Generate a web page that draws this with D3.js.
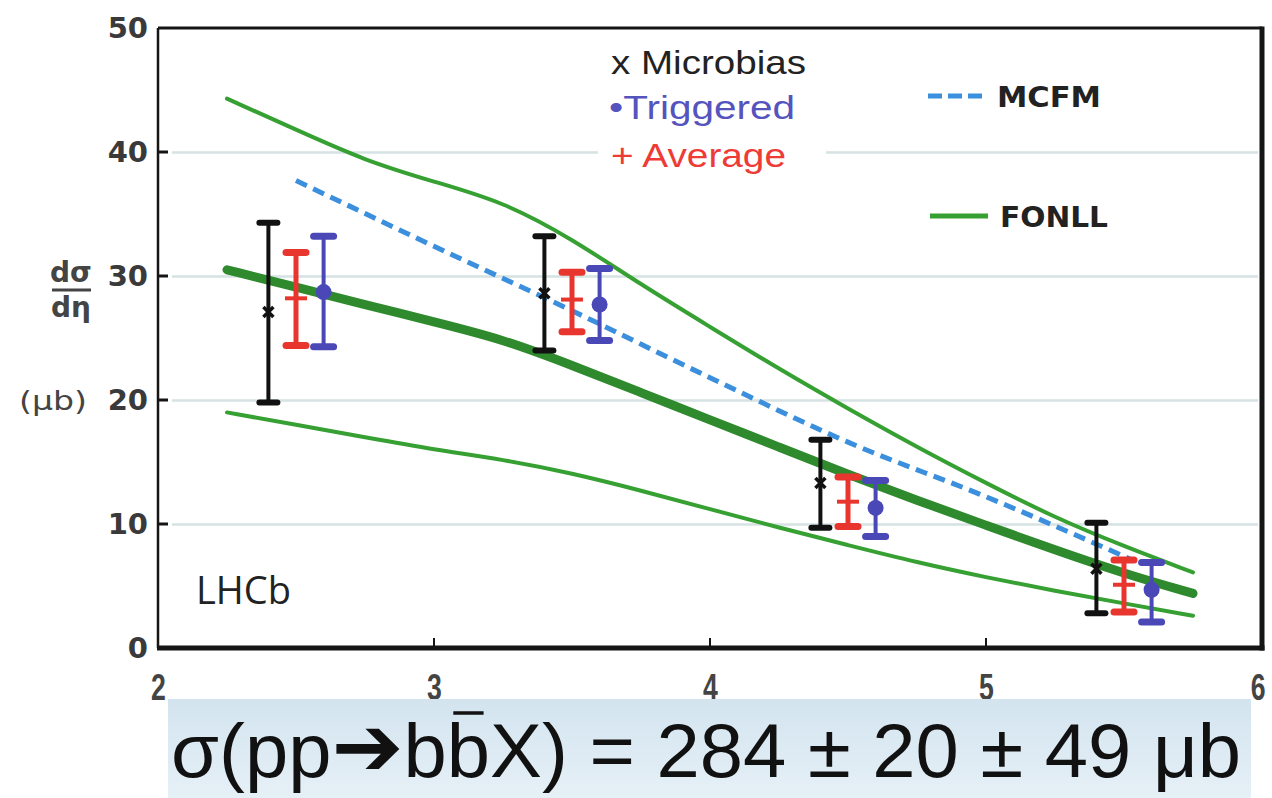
<!DOCTYPE html>
<meta charset="utf-8">
<style>
    body { margin: 0; background: #fff; }
    svg { display: block; }
</style>
<body>
<script src="https://d3js.org/d3.v7.min.js"></script>
<script>

    // ---- data ----
    var etaBins = [2.5, 3.5, 4.5, 5.5];

    var microVal = [27.1, 28.6, 13.3, 6.4];
    var microLo  = [19.8, 24.0, 9.7, 2.8];
    var microHi  = [34.3, 33.2, 16.8, 10.1];

    var avgVal = [28.2, 28.1, 11.8, 5.1];
    var avgLo  = [24.4, 25.5, 9.8, 2.9];
    var avgHi  = [31.9, 30.3, 13.8, 7.1];

    var trigVal = [28.7, 27.7, 11.3, 4.7];
    var trigLo  = [24.3, 24.8, 9.0, 2.1];
    var trigHi  = [33.2, 30.6, 13.5, 6.9];

    var fonllEta     = [2.25, 2.5, 2.75, 3.0, 3.25, 3.5, 3.75, 4.0, 4.25, 4.5, 4.75, 5.0, 5.25, 5.5, 5.75];
    var fonllUpper   = [44.3, 41.8, 39.3, 37.6, 36.0, 33.0, 29.3, 25.9, 22.5, 19.3, 16.2, 13.3, 10.5, 8.2, 6.1];
    var fonllCentral = [30.5, 29.1, 27.7, 26.3, 24.9, 22.8, 20.6, 18.4, 16.2, 14.0, 11.9, 9.9, 7.9, 6.0, 4.4];
    var fonllLower   = [19.0, 18.0, 17.0, 16.0, 15.2, 14.1, 12.7, 11.2, 9.7, 8.3, 6.9, 5.7, 4.6, 3.6, 2.6];

    var mcfmEta = [2.5, 3.0, 3.5, 4.0, 4.5, 5.0, 5.52];
    var mcfmVal = [37.7, 32.4, 27.2, 21.8, 16.6, 12.2, 7.2];

    var yTicks = [0, 10, 20, 30, 40, 50];
    var xTicks = [2, 3, 4, 5, 6];

    // ---- layout ----
    var W = 1272, H = 798;
    var plot = { left: 158, right: 1262, top: 28, bottom: 648 };

    var x = d3.scaleLinear().domain([2, 6]).range([plot.left, plot.right]);
    var y = d3.scaleLinear().domain([0, 50]).range([plot.bottom, plot.top]);

    var svg = d3.select("body").append("svg")
        .attr("width", W)
        .attr("height", H);

    // gridlines
    var gridW = plot.right - 4 - (plot.left + 14);
    var grid = svg.append("g")
        .attr("transform", "translate(" + (plot.right - 4) + ",0)")
        .call(d3.axisLeft(y).tickValues([10, 20, 30, 40]).tickSize(gridW).tickFormat(""));
    grid.select(".domain").remove();
    grid.selectAll("line").attr("stroke", "#d6e2e3").attr("stroke-width", 2.5)
        .attr("x2", -gridW);

    // white legend background (cuts the 40 gridline)
    svg.append("rect")
        .attr("x", 598).attr("y", 38).attr("width", 228).attr("height", 134)
        .attr("fill", "#fff");

    // FONLL curves
    function curve(vals) {
        return d3.line()
            .x(function (d, i) { return x(fonllEta[i]); })
            .y(function (d) { return y(d); })
            .curve(d3.curveBasis)(vals);
    }
    svg.append("path").attr("d", curve(fonllUpper))
        .attr("fill", "none").attr("stroke", "#36a033").attr("stroke-width", 4).attr("stroke-linecap", "round");
    svg.append("path").attr("d", curve(fonllLower))
        .attr("fill", "none").attr("stroke", "#36a033").attr("stroke-width", 4).attr("stroke-linecap", "round");
    svg.append("path").attr("d", curve(fonllCentral))
        .attr("fill", "none").attr("stroke", "#2f8a2e").attr("stroke-width", 9).attr("stroke-linecap", "round");

    // MCFM dashed
    svg.append("path")
        .attr("d", d3.line()
            .x(function (d, i) { return x(mcfmEta[i]); })
            .y(function (d) { return y(d); })
            .curve(d3.curveMonotoneX)(mcfmVal))
        .attr("fill", "none").attr("stroke", "#3b8fdc").attr("stroke-width", 5)
        .attr("stroke-dasharray", "12,7");

    // error bars
    function errorBars(val, lo, hi, offset, color, barW, capW, capT) {
        var g = svg.append("g");
        etaBins.forEach(function (e, i) {
            var cx = x(e + offset);
            g.append("line").attr("x1", cx).attr("x2", cx)
                .attr("y1", y(lo[i])).attr("y2", y(hi[i]))
                .attr("stroke", color).attr("stroke-width", barW);
            [lo[i], hi[i]].forEach(function (v) {
                g.append("line")
                    .attr("x1", cx - capW / 2).attr("x2", cx + capW / 2)
                    .attr("y1", y(v)).attr("y2", y(v))
                    .attr("stroke", color).attr("stroke-width", capT)
                    .attr("stroke-linecap", "round");
            });
        });
        return g;
    }

    var gMicro = errorBars(microVal, microLo, microHi, -0.1, "#111", 4, 18, 6);
    etaBins.forEach(function (e, i) {
        var cx = x(e - 0.1), cy = y(microVal[i]);
        gMicro.append("path")
            .attr("d", "M" + (cx - 5) + "," + (cy - 5) + "L" + (cx + 5) + "," + (cy + 5) +
                "M" + (cx + 5) + "," + (cy - 5) + "L" + (cx - 5) + "," + (cy + 5))
            .attr("stroke", "#111").attr("stroke-width", 3.5);
    });

    var gAvg = errorBars(avgVal, avgLo, avgHi, 0, "#e8352e", 5, 20, 7);
    etaBins.forEach(function (e, i) {
        var cx = x(e), cy = y(avgVal[i]);
        gAvg.append("line").attr("x1", cx - 11).attr("x2", cx + 11)
            .attr("y1", cy).attr("y2", cy)
            .attr("stroke", "#e8352e").attr("stroke-width", 4);
    });

    var gTrig = errorBars(trigVal, trigLo, trigHi, 0.1, "#4a48b6", 4, 20, 7);
    etaBins.forEach(function (e, i) {
        gTrig.append("circle").attr("cx", x(e + 0.1)).attr("cy", y(trigVal[i]))
            .attr("r", 8).attr("fill", "#4a48b6");
    });

    // frame
    var frame = svg.append("g").attr("stroke", "#151515");
    frame.append("line").attr("x1", plot.left).attr("x2", plot.right).attr("y1", plot.top).attr("y2", plot.top).attr("stroke-width", 3);
    frame.append("line").attr("x1", plot.left).attr("x2", plot.left).attr("y1", plot.top).attr("y2", plot.bottom).attr("stroke-width", 2.5);
    frame.append("line").attr("x1", plot.right).attr("x2", plot.right).attr("y1", plot.top - 1.5).attr("y2", plot.bottom + 2.5).attr("stroke-width", 5);
    frame.append("line").attr("x1", plot.left - 1).attr("x2", plot.right + 2.5).attr("y1", plot.bottom).attr("y2", plot.bottom).attr("stroke-width", 5);

    // inner tick stubs
    [10, 20, 30, 40].forEach(function (v) {
        frame.append("line").attr("x1", plot.left).attr("x2", plot.left + 10)
            .attr("y1", y(v)).attr("y2", y(v)).attr("stroke-width", 3);
    });
    [3, 4, 5].forEach(function (v) {
        frame.append("line").attr("x1", x(v)).attr("x2", x(v))
            .attr("y1", plot.bottom).attr("y2", plot.bottom - 10).attr("stroke-width", 2);
    });

    // y tick labels
    var yAxis = svg.append("g")
        .attr("transform", "translate(" + (plot.left - 10) + ",0)")
        .call(d3.axisLeft(y).tickValues(yTicks).tickSize(0).tickPadding(0));
    yAxis.select(".domain").remove();
    yAxis.selectAll("text")
        .attr("font-family", "DejaVu Sans")
        .attr("font-weight", "bold")
        .attr("font-size", 29)
        .attr("fill", "#3a3a3a");

    // x tick labels (narrow digits, partly hidden by the result box)
    var xAxis = svg.append("g")
        .attr("transform", "translate(0," + (plot.bottom + 26) + ")")
        .call(d3.axisBottom(x).tickValues(xTicks).tickSize(0).tickPadding(0)
            .tickFormat(d3.format("d")));
    xAxis.select(".domain").remove();
    xAxis.selectAll("text")
        .attr("font-family", "Liberation Sans")
        .style("font-size", "37px")
        .attr("font-weight", "bold")
        .attr("fill", "#444")
        .attr("transform", "scale(0.72,1)");
    xAxis.selectAll(".tick").filter(function (d) { return d === 6; })
        .select("text").attr("x", -6);

    // y axis title
    var yt = svg.append("g").attr("fill", "#444").attr("font-family", "DejaVu Sans")
        .attr("font-weight", "bold");
    yt.append("text").attr("x", 71).attr("y", 282).attr("text-anchor", "middle")
        .attr("font-size", 28).text("dσ");
    yt.append("line").attr("x1", 52).attr("x2", 91).attr("y1", 290).attr("y2", 290)
        .attr("stroke", "#444").attr("stroke-width", 3);
    yt.append("text").attr("x", 71).attr("y", 317).attr("text-anchor", "middle")
        .attr("font-size", 28).text("dη");
    yt.append("text").attr("x", 53).attr("y", 410).attr("text-anchor", "middle")
        .attr("font-size", 27).attr("font-weight", "normal")
        .attr("textLength", 68).attr("lengthAdjust", "spacingAndGlyphs").text("(μb)");

    // LHCb
    svg.append("text").attr("x", 196).attr("y", 604)
        .attr("font-family", "Open Sans").attr("font-size", 38)
        .attr("fill", "#222").text("LHCb");

    // legend
    var leg = svg.append("g").attr("font-family", "Liberation Sans").attr("font-size", 34);
    leg.append("text").attr("x", 611).attr("y", 74).attr("fill", "#222")
        .attr("textLength", 195).attr("lengthAdjust", "spacingAndGlyphs").text("x Microbias");
    leg.append("text").attr("x", 609).attr("y", 119).attr("fill", "#5553bd")
        .attr("textLength", 186).attr("lengthAdjust", "spacingAndGlyphs").text("•Triggered");
    leg.append("text").attr("x", 611).attr("y", 167).attr("fill", "#ee3b35")
        .attr("textLength", 175).attr("lengthAdjust", "spacingAndGlyphs").text("+ Average");

    leg.append("line").attr("x1", 928).attr("x2", 986).attr("y1", 96).attr("y2", 96)
        .attr("stroke", "#3b8fdc").attr("stroke-width", 5).attr("stroke-dasharray", "14,6");
    leg.append("text").attr("x", 997).attr("y", 107).attr("fill", "#222")
        .attr("font-family", "DejaVu Sans").attr("font-weight", "bold").attr("font-size", 28)
        .attr("textLength", 104).attr("lengthAdjust", "spacingAndGlyphs").text("MCFM");
    leg.append("line").attr("x1", 930).attr("x2", 988).attr("y1", 216).attr("y2", 216)
        .attr("stroke", "#36a033").attr("stroke-width", 5);
    leg.append("text").attr("x", 1000).attr("y", 227).attr("fill", "#222")
        .attr("font-family", "DejaVu Sans").attr("font-weight", "bold").attr("font-size", 28)
        .attr("textLength", 108).attr("lengthAdjust", "spacingAndGlyphs").text("FONLL");

    // result box
    var defs = svg.append("defs");
    var grad = defs.append("linearGradient").attr("id", "boxg")
        .attr("x1", 0).attr("y1", 0).attr("x2", 0).attr("y2", 1);
    grad.append("stop").attr("offset", "0%").attr("stop-color", "#d3e4ef");
    grad.append("stop").attr("offset", "100%").attr("stop-color", "#e6f0f7");
    svg.append("rect").attr("x", 168).attr("y", 699).attr("width", 1083).attr("height", 99)
        .attr("fill", "url(#boxg)");

    var formula = svg.append("text")
        .attr("x", 171).attr("y", 777)
        .attr("font-family", "Liberation Sans")
        .attr("font-size", 76)
        .attr("fill", "#111")
        .attr("textLength", 1070)
        .attr("lengthAdjust", "spacingAndGlyphs");
    formula.append("tspan").text("σ(pp");
    formula.append("tspan").attr("font-family", "DejaVu Sans")
        .attr("font-size", 84).attr("dy", -2).text("➔");
    formula.append("tspan").attr("dy", 2).text("bbX) = 284 ± 20 ± 49 μb");

    // overline on the anti-b
    var ext = formula.node().getExtentOfChar(6);
    svg.append("line")
        .attr("x1", ext.x + ext.width * 0.15).attr("x2", ext.x + ext.width * 0.85)
        .attr("y1", 713).attr("y2", 713)
        .attr("stroke", "#111").attr("stroke-width", 3.5);

</script>
</body>
